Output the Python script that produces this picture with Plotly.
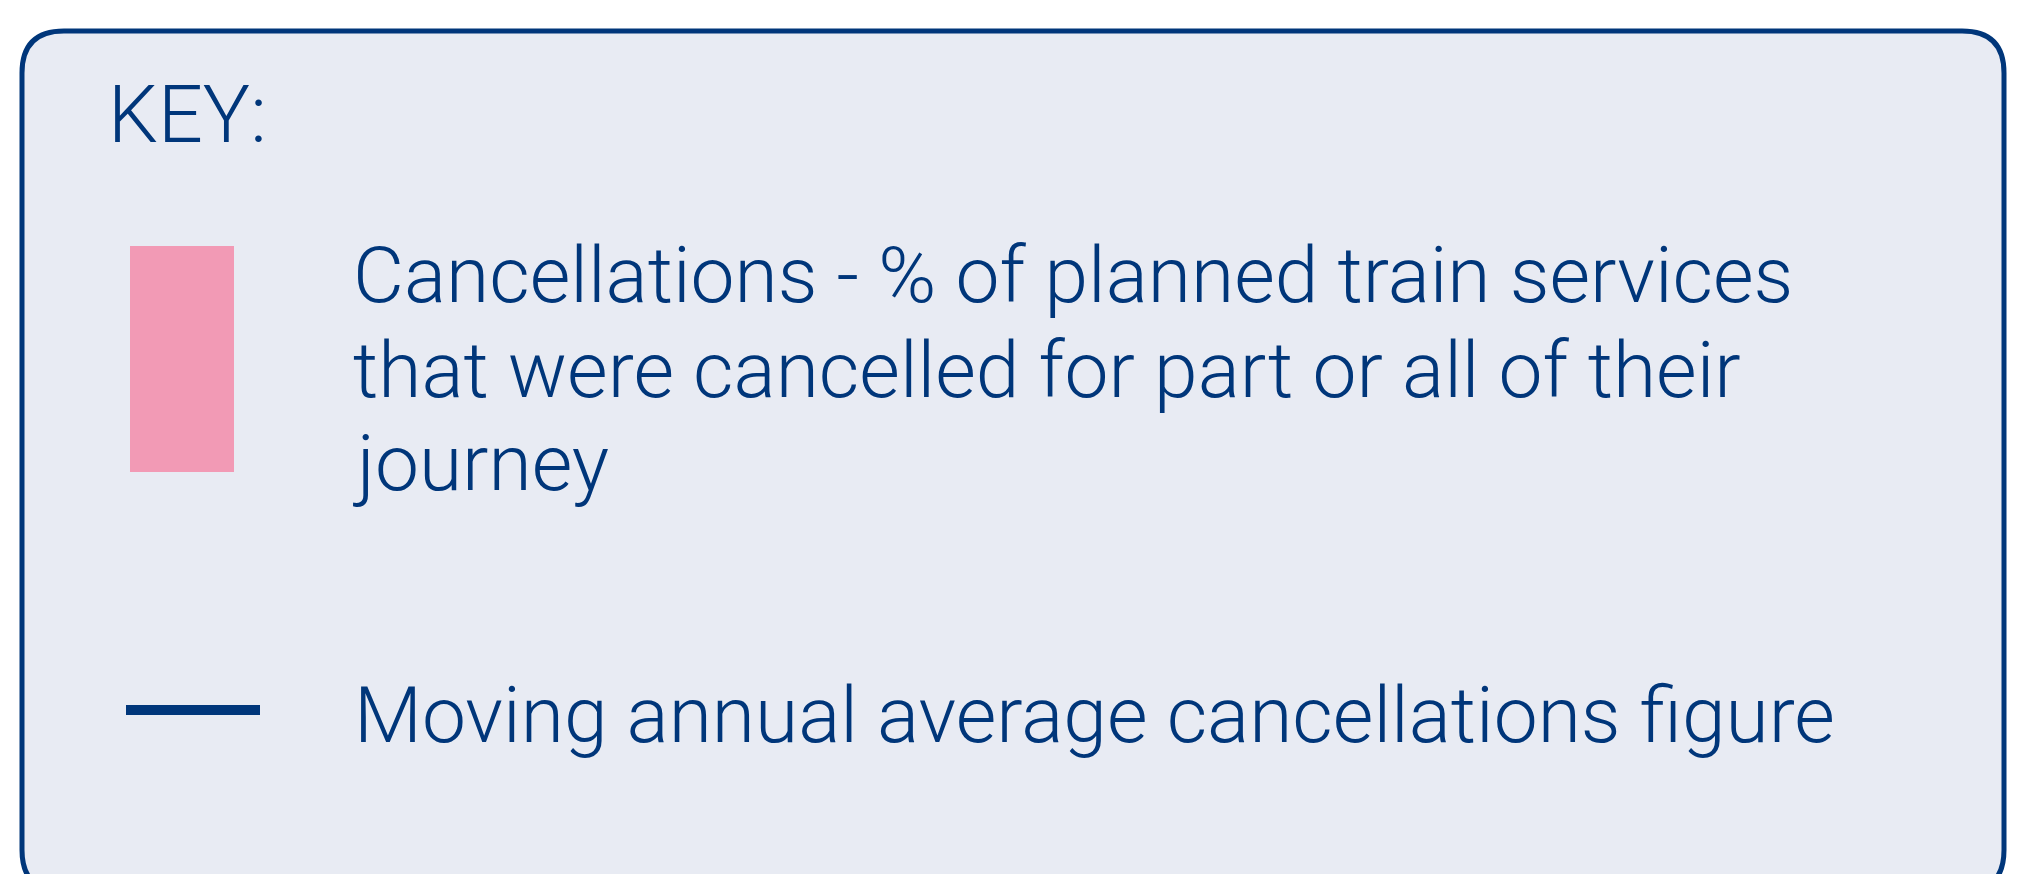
import plotly.graph_objects as go

# ---- content ----
key_title = "KEY:"
bar_label_lines = [
    "Cancellations - % of planned train services",
    "that were cancelled for part or all of their",
    "journey",
]
line_label = "Moving annual average cancellations figure"

NAVY = "#00367A"
PINK = "#F29AB5"
FILL = "#E8EBF3"
FONT = "Roboto, Liberation Sans, Arial, sans-serif"

W, H = 2017, 874
OFF = 8  # page body margin

fig = go.Figure()

# rounded key box
x0, y0, x1, y1, r = 22, 31, 2004, 892, 42
path = (f"M {x0+r},{y0} L {x1-r},{y0} Q {x1},{y0} {x1},{y0+r} "
        f"L {x1},{y1-r} Q {x1},{y1} {x1-r},{y1} L {x0+r},{y1} "
        f"Q {x0},{y1} {x0},{y1-r} L {x0},{y0+r} Q {x0},{y0} {x0+r},{y0} Z")
fig.add_shape(type="path", path=path, xref="x", yref="y",
              line=dict(color=NAVY, width=5), fillcolor=FILL, layer="below")

# pink swatch (bar legend symbol)
fig.add_trace(go.Scatter(x=[130, 234, 234, 130, 130], y=[246, 246, 472, 472, 246],
                         mode="lines", fill="toself", fillcolor=PINK,
                         line=dict(width=0, color=PINK), hoverinfo="skip",
                         showlegend=False))
# navy line (line legend symbol)
fig.add_trace(go.Scatter(x=[126, 260], y=[710, 710], mode="lines",
                         line=dict(color=NAVY, width=10), hoverinfo="skip",
                         showlegend=False))

fs = 78.5
fig.add_annotation(x=106, y=115, text=key_title, showarrow=False,
                   xanchor="left", yanchor="middle",
                   font=dict(family=FONT, size=79, color=NAVY, weight=300))
baselines = [302, 397, 490]
for txt, b in zip(bar_label_lines, baselines):
    fig.add_annotation(x=351, y=b - 0.35 * fs, text=txt, showarrow=False,
                       xanchor="left", yanchor="middle",
                       font=dict(family=FONT, size=fs, color=NAVY, weight=300))
fig.add_annotation(x=352, y=742 - 0.35 * fs, text=line_label, showarrow=False,
                   xanchor="left", yanchor="middle",
                   font=dict(family=FONT, size=fs, color=NAVY, weight=300))

fig.update_layout(
    width=W - OFF, height=H - OFF, margin=dict(l=0, r=0, t=0, b=0),
    paper_bgcolor="white", plot_bgcolor="white",
    xaxis=dict(range=[OFF, W], visible=False, fixedrange=True),
    yaxis=dict(range=[H, OFF], visible=False, fixedrange=True),
    showlegend=False,
)

fig.write_html("out.html", config={"displayModeBar": False})
